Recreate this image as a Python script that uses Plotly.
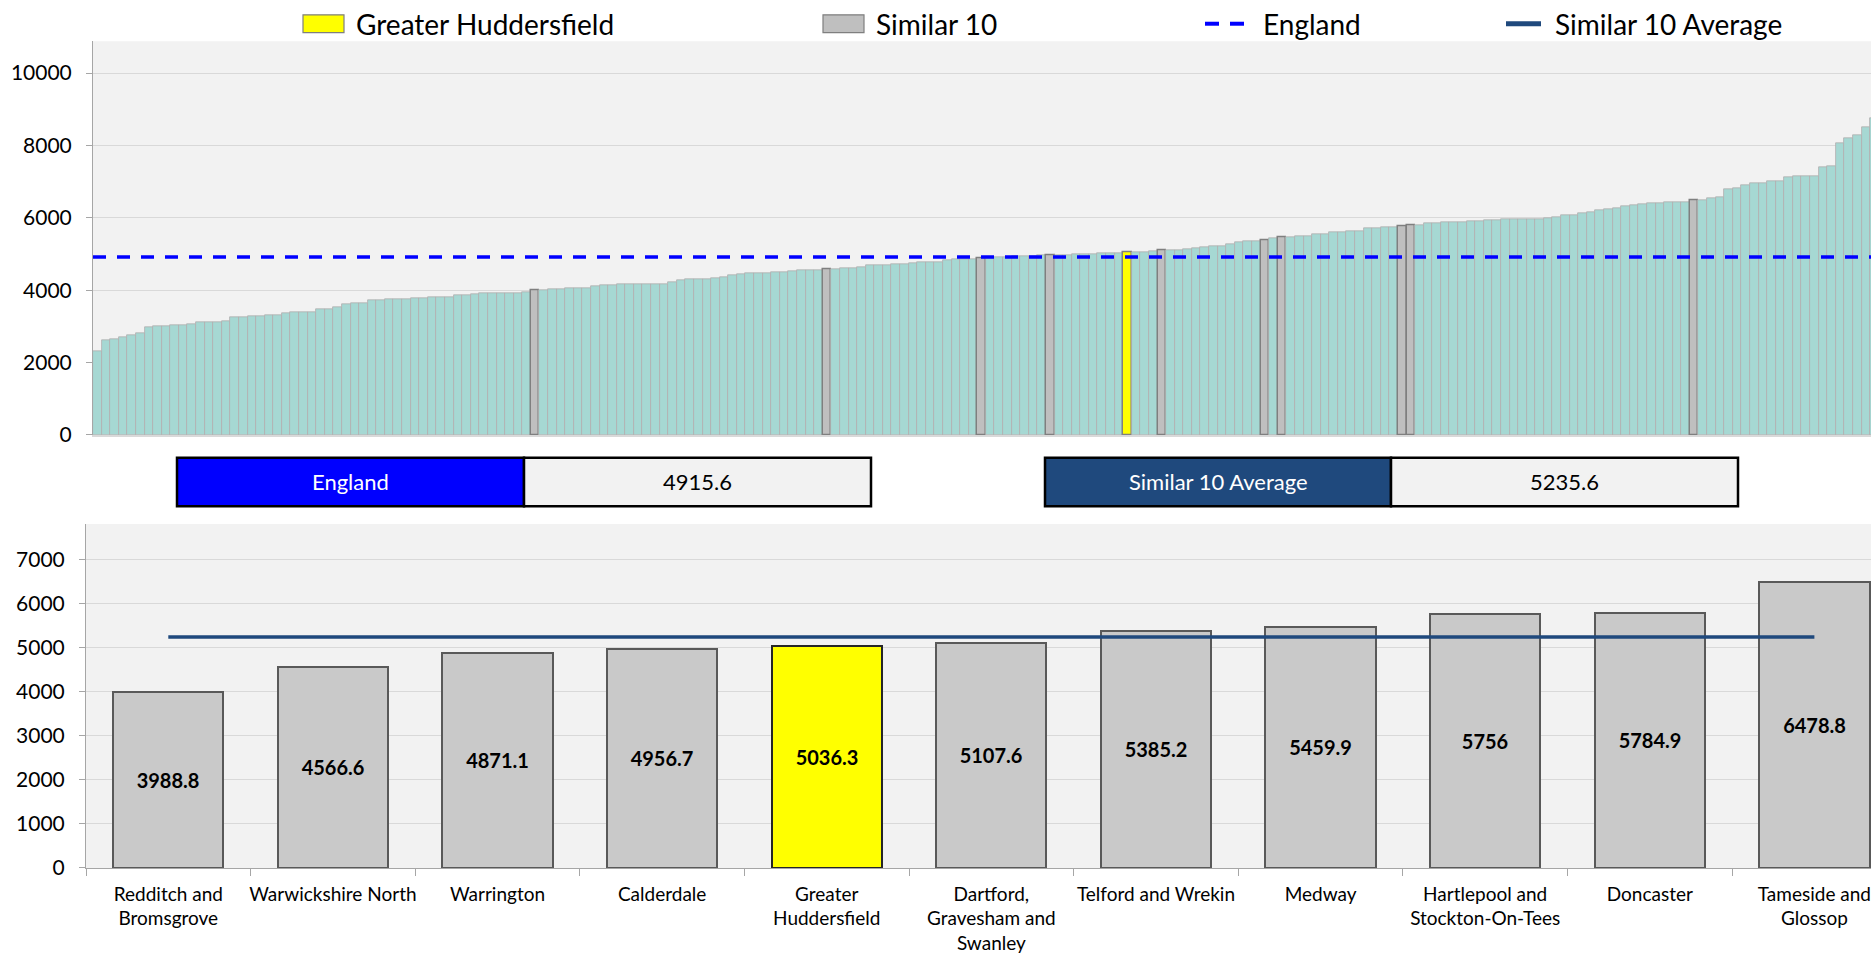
import plotly.graph_objects as go

W, H = 1871, 962

# ---------------- data ----------------
all_values = [
    2303, 2631, 2657, 2703, 2767, 2822, 2985, 2994, 3012, 3030,
    3040, 3049, 3105, 3122, 3122, 3131, 3250, 3259, 3277, 3286,
    3313, 3322, 3377, 3386, 3386, 3404, 3477, 3477, 3541, 3604,
    3632, 3650, 3723, 3723, 3741, 3745, 3750, 3778, 3778, 3796,
    3796, 3814, 3850, 3869, 3890, 3905, 3918, 3923, 3925, 3928,
    3950, 3988.8, 3996, 4023, 4041, 4059, 4059, 4062, 4114, 4141,
    4150, 4160, 4160, 4162, 4169, 4169, 4172, 4223, 4278, 4305,
    4314, 4316, 4342, 4360, 4415, 4442, 4460, 4469, 4470, 4506,
    4508, 4515, 4542, 4551, 4553, 4566.6, 4579, 4606, 4608, 4624,
    4679, 4688, 4690, 4706, 4724, 4743, 4770, 4771, 4775, 4824,
    4843, 4852, 4865, 4871.1, 4897, 4906, 4925, 4943, 4950, 4952,
    4954, 4956.7, 4970, 4979, 4988, 4998, 5007, 5016, 5018, 5020,
    5036.3, 5043, 5045, 5090, 5107.6, 5117, 5118, 5120, 5162, 5199,
    5226, 5228, 5263, 5335, 5363, 5365, 5385.2, 5426, 5459.9, 5472,
    5499, 5501, 5544, 5546, 5590, 5600, 5634, 5636, 5707, 5722,
    5740, 5750, 5756, 5784.9, 5807, 5844, 5862, 5871, 5880, 5882,
    5898, 5900, 5926, 5944, 5950, 5953, 5955, 5971, 5973, 5989,
    6026, 6071, 6073, 6117, 6153, 6217, 6226, 6254, 6326, 6336,
    6363, 6399, 6408, 6418, 6420, 6427, 6478.8, 6490, 6540, 6560,
    6778, 6818, 6910, 6955, 6970, 7014, 7016, 7110, 7137, 7150,
    7160, 7387, 7424, 8075, 8202, 8270, 8508, 8750,
]

england_value = 4915.6
similar10_average = 5235.6
focus_name = "Greater Huddersfield"

similar_names = [
    "Redditch and Bromsgrove", "Warwickshire North", "Warrington", "Calderdale",
    "Greater Huddersfield", "Dartford, Gravesham and Swanley", "Telford and Wrekin",
    "Medway", "Hartlepool and Stockton-On-Tees", "Doncaster", "Tameside and Glossop",
]
similar_values = [3988.8, 4566.6, 4871.1, 4956.7, 5036.3, 5107.6, 5385.2,
                  5459.9, 5756, 5784.9, 6478.8]
similar_tick_labels = [
    "Redditch and<br>Bromsgrove", "Warwickshire North", "Warrington", "Calderdale",
    "Greater<br>Huddersfield", "Dartford,<br>Gravesham and<br>Swanley", "Telford and Wrekin",
    "Medway", "Hartlepool and<br>Stockton-On-Tees", "Doncaster", "Tameside and<br>Glossop",
]

upper_ticks = [0, 2000, 4000, 6000, 8000, 10000]
lower_ticks = [0, 1000, 2000, 3000, 4000, 5000, 6000, 7000]

legend_labels = ["Greater Huddersfield", "Similar 10", "England", "Similar 10 Average"]

# ---------------- styles ----------------
FONT = "Lato"
TEAL = "#A6D8D3"
GREY = "#BFBFBF"
YELLOW = "#FFFF00"
NAVY = "#1F497D"
BLUE = "#0000FF"
PLOT_BG = "#F2F2F2"
GRID = "#D9D9D9"


def px_x(p):
    return p / W


def px_y(p):
    return 1 - p / H


focus_value = similar_values[similar_names.index(focus_name)]
upper_colors, upper_line_colors, upper_line_widths = [], [], []
for v in all_values:
    if v == focus_value:
        upper_colors.append(YELLOW)
        upper_line_colors.append("#7F7F7F")
        upper_line_widths.append(1.5)
    elif v in similar_values:
        upper_colors.append(GREY)
        upper_line_colors.append("#7F7F7F")
        upper_line_widths.append(1.5)
    else:
        upper_colors.append(TEAL)
        upper_line_colors.append("#B3AFAF")
        upper_line_widths.append(0.8)

lower_colors = [YELLOW if n == focus_name else "#C9C9C9" for n in similar_names]
lower_line_colors = ["#262626" if n == focus_name else "#595959" for n in similar_names]

fig = go.Figure()

fig.add_trace(go.Bar(
    x=list(range(len(all_values))), y=all_values,
    marker=dict(color=upper_colors,
                line=dict(color=upper_line_colors, width=upper_line_widths)),
    xaxis="x", yaxis="y", showlegend=False, hoverinfo="y",
))
fig.add_trace(go.Scatter(
    x=[-0.5, len(all_values) - 0.5], y=[england_value, england_value],
    mode="lines", line=dict(color=BLUE, width=3.5, dash="13px,11px"),
    xaxis="x", yaxis="y", showlegend=False, hoverinfo="skip",
))

fig.add_trace(go.Bar(
    x=similar_names, y=similar_values, width=0.67,
    marker=dict(color=lower_colors, line=dict(color=lower_line_colors, width=2)),
    text=[f"{v:g}" for v in similar_values],
    texttemplate="<b>%{text}</b>",
    textposition="inside", insidetextanchor="middle", textangle=0,
    constraintext="none",
    textfont=dict(family=FONT, size=20, color="black"),
    xaxis="x2", yaxis="y2", showlegend=False, hoverinfo="y",
))
fig.add_trace(go.Scatter(
    x=[similar_names[0], similar_names[-1]],
    y=[similar10_average, similar10_average],
    mode="lines", line=dict(color=NAVY, width=3.5),
    xaxis="x2", yaxis="y2", showlegend=False, hoverinfo="skip",
))

shapes = []
annotations = []

leg_y = 24
shapes.append(dict(type="rect", xref="paper", yref="paper",
                   x0=px_x(303), x1=px_x(344), y0=px_y(33), y1=px_y(15),
                   fillcolor=YELLOW, line=dict(color="#7F7F7F", width=1.2)))
shapes.append(dict(type="rect", xref="paper", yref="paper",
                   x0=px_x(823), x1=px_x(864), y0=px_y(33), y1=px_y(15),
                   fillcolor=GREY, line=dict(color="#7F7F7F", width=1.2)))
for a, b in [(1205, 1219), (1230, 1244)]:
    shapes.append(dict(type="line", xref="paper", yref="paper",
                       x0=px_x(a), x1=px_x(b), y0=px_y(leg_y), y1=px_y(leg_y),
                       line=dict(color=BLUE, width=4)))
shapes.append(dict(type="line", xref="paper", yref="paper",
                   x0=px_x(1506), x1=px_x(1541), y0=px_y(leg_y), y1=px_y(leg_y),
                   line=dict(color=NAVY, width=5)))
for label, xpos in zip(legend_labels, [354, 874, 1261, 1553]):
    annotations.append(dict(text=label, xref="paper", yref="paper",
                            x=px_x(xpos), y=px_y(leg_y), xanchor="left", yanchor="middle",
                            showarrow=False, font=dict(family=FONT, size=28, color="black")))

tables = [
    ("England", england_value, BLUE, 177, 524, 871),
    ("Similar 10 Average", similar10_average, NAVY, 1045, 1391, 1738),
]
ty0, ty1 = 463, 512
for name, val, col, xa, xm, xb in tables:
    shapes.append(dict(type="rect", xref="paper", yref="paper",
                       x0=px_x(xa), x1=px_x(xm), y0=px_y(ty1), y1=px_y(ty0),
                       fillcolor=col, line=dict(color="black", width=2.5)))
    shapes.append(dict(type="rect", xref="paper", yref="paper",
                       x0=px_x(xm), x1=px_x(xb), y0=px_y(ty1), y1=px_y(ty0),
                       fillcolor=PLOT_BG, line=dict(color="black", width=2.5)))
    annotations.append(dict(text=name, xref="paper", yref="paper",
                            x=px_x((xa + xm) / 2), y=px_y((ty0 + ty1) / 2),
                            xanchor="center", yanchor="middle", showarrow=False,
                            font=dict(family=FONT, size=22, color="white")))
    annotations.append(dict(text=f"{val:g}", xref="paper", yref="paper",
                            x=px_x((xm + xb) / 2), y=px_y((ty0 + ty1) / 2),
                            xanchor="center", yanchor="middle", showarrow=False,
                            font=dict(family=FONT, size=22, color="black")))

fig.update_layout(
    width=W, height=H,
    margin=dict(l=0, r=0, t=0, b=0),
    paper_bgcolor="white", plot_bgcolor=PLOT_BG,
    font=dict(family=FONT, color="black"),
    bargap=0,
    showlegend=False,
    shapes=shapes, annotations=annotations,
    xaxis=dict(domain=[px_x(93), 1], range=[-0.5, 206.6], autorange=False, anchor="y",
               showticklabels=False, showgrid=False, zeroline=False,
               showline=True, linecolor=GRID, linewidth=2, ticks=""),
    yaxis=dict(domain=[px_y(440), px_y(41.7)], range=[0, 10880], autorange=False, anchor="x",
               tickvals=upper_ticks, ticktext=[str(t) for t in upper_ticks],
               showgrid=True, gridcolor=GRID, gridwidth=1,
               zeroline=False, showline=True, linecolor="#A6A6A6", linewidth=1,
               ticks="outside", ticklen=6, tickcolor="#A6A6A6",
               ticklabelstandoff=10,
               tickfont=dict(family=FONT, size=21, color="black")),
    xaxis2=dict(domain=[px_x(86), 1], range=[-0.5, 10.344], autorange=False, anchor="y2",
                type="category", tickvals=similar_names, ticktext=similar_tick_labels,
                tickangle=0,
                ticks="outside", tickson="boundaries", ticklen=7, tickcolor="#A6A6A6",
                ticklabelstandoff=9,
                showline=True, linecolor="#A6A6A6", linewidth=1, showgrid=False,
                tickfont=dict(family=FONT, size=19, color="black")),
    yaxis2=dict(domain=[px_y(878), px_y(530)], range=[0, 7800], autorange=False, anchor="x2",
                tickvals=lower_ticks, ticktext=[str(t) for t in lower_ticks],
                showgrid=True, gridcolor=GRID, gridwidth=1,
                zeroline=False, showline=True, linecolor="#A6A6A6", linewidth=1,
                ticks="outside", ticklen=6, tickcolor="#A6A6A6",
                ticklabelstandoff=10,
                tickfont=dict(family=FONT, size=21, color="black")),
)

fig.write_html("out.html", config={"displayModeBar": False},
               post_script="document.body.style.margin='0';")
